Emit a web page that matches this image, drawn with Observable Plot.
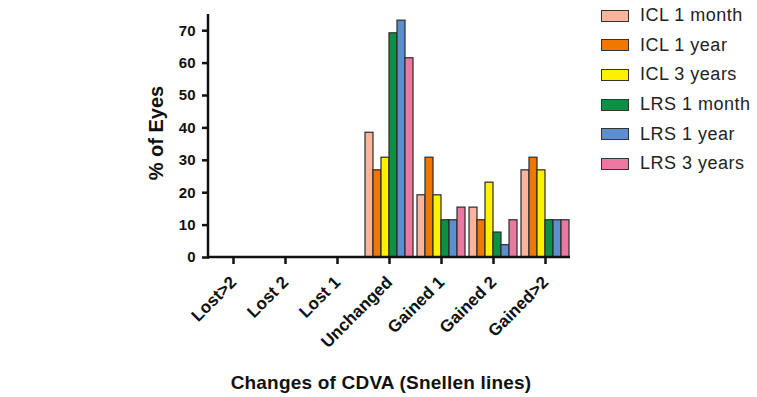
<!DOCTYPE html>
<html><head><meta charset="utf-8">
<script src="https://cdn.jsdelivr.net/npm/d3@7"></script>
<script src="https://cdn.jsdelivr.net/npm/@observablehq/plot@0.6"></script>
<style>
body{margin:0;background:#fff;font-family:"Liberation Sans",Arial,sans-serif;}
#wrap{position:relative;width:757px;height:397px;overflow:hidden;}
#ylabel{position:absolute;left:156px;top:133px;transform:translate(-50%,-50%) rotate(-90deg);font-weight:bold;font-size:20px;color:#111;white-space:nowrap;}
#xlabel{position:absolute;left:381px;top:372px;transform:translateX(-50%);font-weight:bold;font-size:19px;color:#111;white-space:nowrap;letter-spacing:0.2px;}
#legend{position:absolute;left:601px;top:1px;}
.row{display:flex;align-items:center;height:29.6px;font-size:18px;letter-spacing:0.5px;color:#222;}
.sw{width:28px;height:12px;border:1px solid #333;margin-right:11px;box-sizing:border-box;}
</style></head><body><div id="wrap"></div>
<script>
const categories = ["Lost>2","Lost 2","Lost 1","Unchanged","Gained 1","Gained 2","Gained>2"];
const seriesNames = ["ICL 1 month","ICL 1 year","ICL 3 years","LRS 1 month","LRS 1 year","LRS 3 years"];
const seriesColors = ["#f8b59c","#f07800","#fff000","#0a9144","#5b8fd0","#ea78a0"];
const icl1Month = [0,0,0,38.5,19.2,15.4,26.9];
const icl1Year  = [0,0,0,26.9,30.8,11.5,30.8];
const icl3Years = [0,0,0,30.8,19.2,23.1,26.9];
const lrs1Month = [0,0,0,69.2,11.5,7.7,11.5];
const lrs1Year  = [0,0,0,73.1,11.5,3.8,11.5];
const lrs3Years = [0,0,0,61.5,15.4,11.5,11.5];
const yTicks = [0,10,20,30,40,50,60,70];
const xTitle = "Changes of CDVA (Snellen lines)";
const yTitle = "% of Eyes";

const seriesValues = [icl1Month, icl1Year, icl3Years, lrs1Month, lrs1Year, lrs3Years];
const rows = [];
categories.forEach((c, i) => seriesNames.forEach((s, j) => rows.push({category: c, series: s, value: seriesValues[j][i]})));

const plot = Plot.plot({
  width: 757, height: 397,
  marginLeft: 208, marginRight: 187, marginTop: 14, marginBottom: 140,
  style: {fontFamily: "'Liberation Sans', Arial, sans-serif", fontSize: "15px", fontWeight: "bold", color: "#111", background: "transparent"},
  fx: {domain: categories, paddingInner: 0.07, paddingOuter: 0, label: null},
  x: {domain: seriesNames, padding: 0, axis: null},
  y: {domain: [0, 75], label: null},
  color: {domain: seriesNames, range: seriesColors},
  marks: [
    Plot.barY(rows, {fx: "category", x: "series", y: "value", fill: "series", stroke: "#2a2a2a", strokeWidth: 1.2}),
    Plot.axisY({ticks: yTicks, tickSize: 7, tickPadding: 7, strokeWidth: 2.5, label: null}),
    Plot.axisFx({anchor: "bottom", tickRotate: -45, tickSize: 7, tickPadding: 15, strokeWidth: 2.5, fontSize: 17, label: null})
  ]
});

// axis lines drawn from the plot's own scales
const ys = plot.scale("y"), fxs = plot.scale("fx");
const svg = d3.select(plot);
const y0 = ys.apply(0);
svg.append("line").attr("x1", fxs.range[0]).attr("x2", fxs.range[1]).attr("y1", y0).attr("y2", y0)
  .attr("stroke", "#111").attr("stroke-width", 2.5);
svg.append("line").attr("x1", fxs.range[0]).attr("x2", fxs.range[0]).attr("y1", ys.range[1]).attr("y2", y0 + 1.25)
  .attr("stroke", "#111").attr("stroke-width", 2.5);

const wrap = document.getElementById("wrap");
wrap.appendChild(plot);
const yl = document.createElement("div"); yl.id = "ylabel"; yl.textContent = yTitle; wrap.appendChild(yl);
const xl = document.createElement("div"); xl.id = "xlabel"; xl.textContent = xTitle; wrap.appendChild(xl);
const lg = document.createElement("div"); lg.id = "legend";
seriesNames.forEach((s, j) => {
  const r = document.createElement("div"); r.className = "row";
  const sw = document.createElement("div"); sw.className = "sw"; sw.style.background = seriesColors[j];
  const t = document.createElement("span"); t.textContent = s;
  r.appendChild(sw); r.appendChild(t); lg.appendChild(r);
});
wrap.appendChild(lg);
</script></body></html>
